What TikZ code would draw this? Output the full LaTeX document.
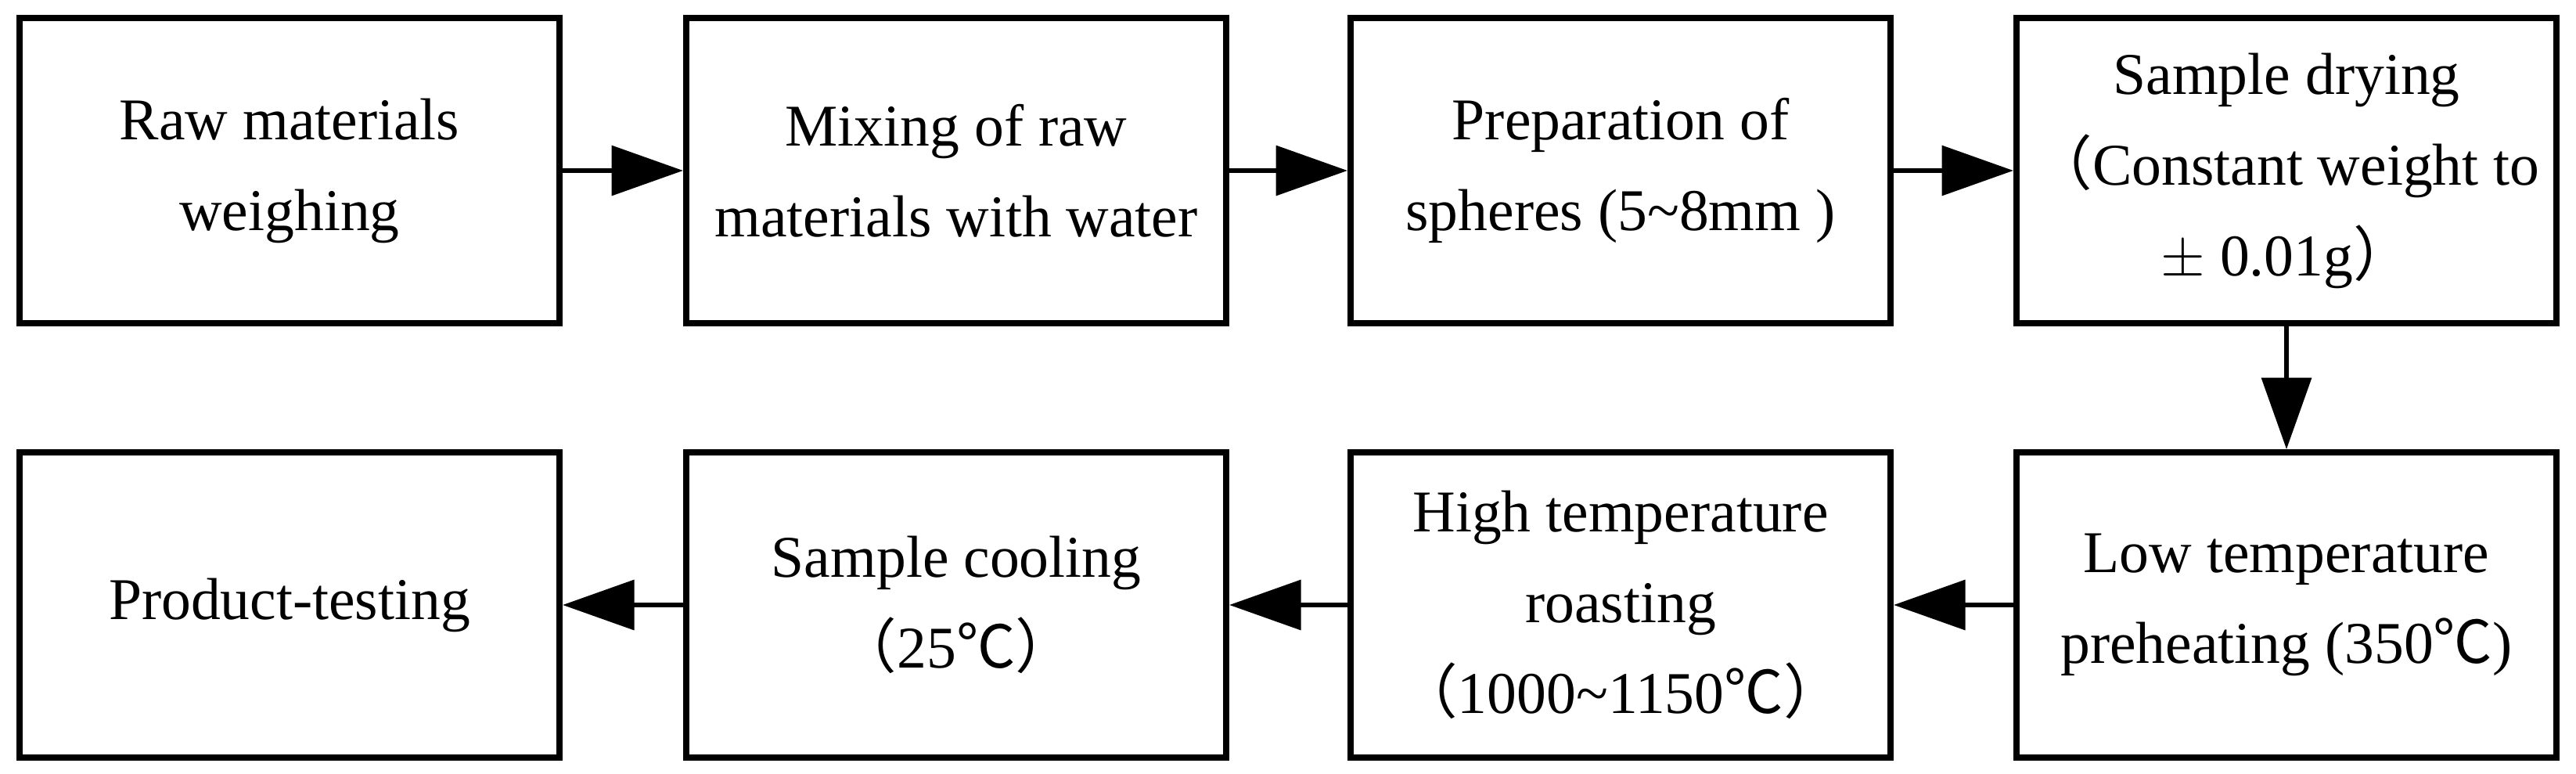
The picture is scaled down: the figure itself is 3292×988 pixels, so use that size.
\documentclass[tikz,border=0pt]{standalone}
\usepackage{fontspec}
\setmainfont{Liberation Serif}
\newfontfamily\cjk{Noto Sans CJK SC}
\usetikzlibrary{arrows.meta}
\newcommand{\lp}{{\cjk （}}
\newcommand{\rp}{{\cjk ）}}
\newcommand{\degc}{{\cjk ℃}}
\begin{document}
\begin{tikzpicture}[x=0.01cm,y=-0.01cm,
  box/.style={draw,line width=2.2pt,minimum width=6.9cm,minimum height=3.9cm,align=center,font=\rmfamily\fontsize{21.5}{33}\selectfont,inner sep=0pt},
  arr/.style={line width=1.6pt,-{Triangle[length=26pt,width=18pt]}}]
\useasboundingbox (0,0) rectangle (3292,988);
\node[box] (a) at (370,218) {Raw materials\\weighing};
\node[box] (b) at (1222,218) {Mixing of raw\\materials with water};
\node[box] (c) at (2071,218) {Preparation of\\spheres (5\textasciitilde8mm )};
\node[box] (d) at (2922,218) {Sample drying\\\lp Constant weight to\\$\pm$ 0.01g\rp};
\node[box] (e) at (2922,773) {Low temperature\\preheating (350\degc )};
\node[box] (f) at (2071,773) {High temperature\\roasting\\\lp 1000\textasciitilde1150\degc \rp};
\node[box] (g) at (1222,773) {Sample cooling\\\lp 25\degc \rp};
\node[box] (h) at (370,773) {Product-testing};
\draw[arr] (a) -- (b);
\draw[arr] (b) -- (c);
\draw[arr] (c) -- (d);
\draw[arr] (d) -- (e);
\draw[arr] (e) -- (f);
\draw[arr] (f) -- (g);
\draw[arr] (g) -- (h);
\end{tikzpicture}
\end{document}
